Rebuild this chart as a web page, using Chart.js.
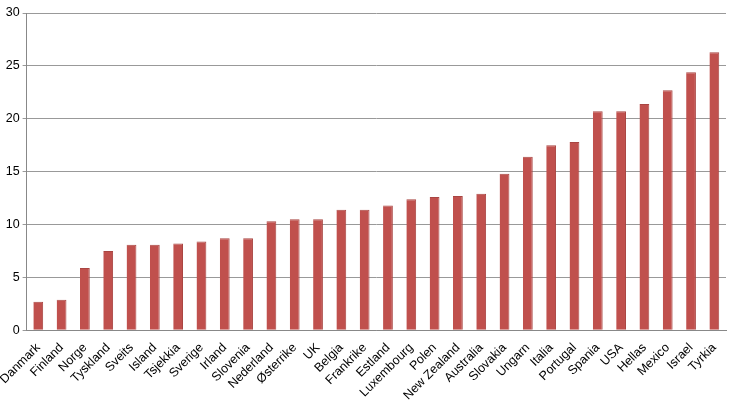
<!DOCTYPE html>
<html><head><meta charset="utf-8">
<script src="https://cdn.jsdelivr.net/npm/chart.js@4"></script>
<style>html,body{margin:0;padding:0;background:#fff}#w{width:730px;height:409px}</style>
</head><body><div id="w"><canvas id="c"></canvas></div>
<script>
const categories=["Danmark","Finland","Norge","Tyskland","Sveits","Island","Tsjekkia","Sverige","Irland","Slovenia","Nederland","Østerrike","UK","Belgia","Frankrike","Estland","Luxembourg","Polen","New Zealand","Australia","Slovakia","Ungarn","Italia","Portugal","Spania","USA","Hellas","Mexico","Israel","Tyrkia"];
const values=[2.7,2.9,5.9,7.5,8.1,8.1,8.2,8.4,8.7,8.7,10.3,10.5,10.5,11.4,11.4,11.8,12.4,12.6,12.7,12.9,14.8,16.4,17.5,17.8,20.7,20.7,21.4,22.7,24.4,26.3];
new Chart(document.getElementById('c'),{type:'bar',
data:{labels:categories,datasets:[{data:values,backgroundColor:'#c0504d',borderColor:'#a94542',borderWidth:{left:0,right:1,top:1,bottom:0},barPercentage:0.42,categoryPercentage:1}]},
options:{responsive:true,maintainAspectRatio:false,animation:false,
layout:{padding:{top:13,right:4,left:0,bottom:4}},
plugins:{legend:{display:false},tooltip:{enabled:false}},
scales:{
x:{grid:{display:false},border:{color:'#888'},ticks:{color:'#000',font:{family:'Liberation Sans, Arial',size:12.5},maxRotation:45,minRotation:45,autoSkip:false,padding:2}},
y:{min:0,max:30,ticks:{stepSize:5,color:'#000',font:{family:'Liberation Sans, Arial',size:12.5}},grid:{color:'#999',tickLength:4},border:{color:'#888'}}
}}});
</script></body></html>
